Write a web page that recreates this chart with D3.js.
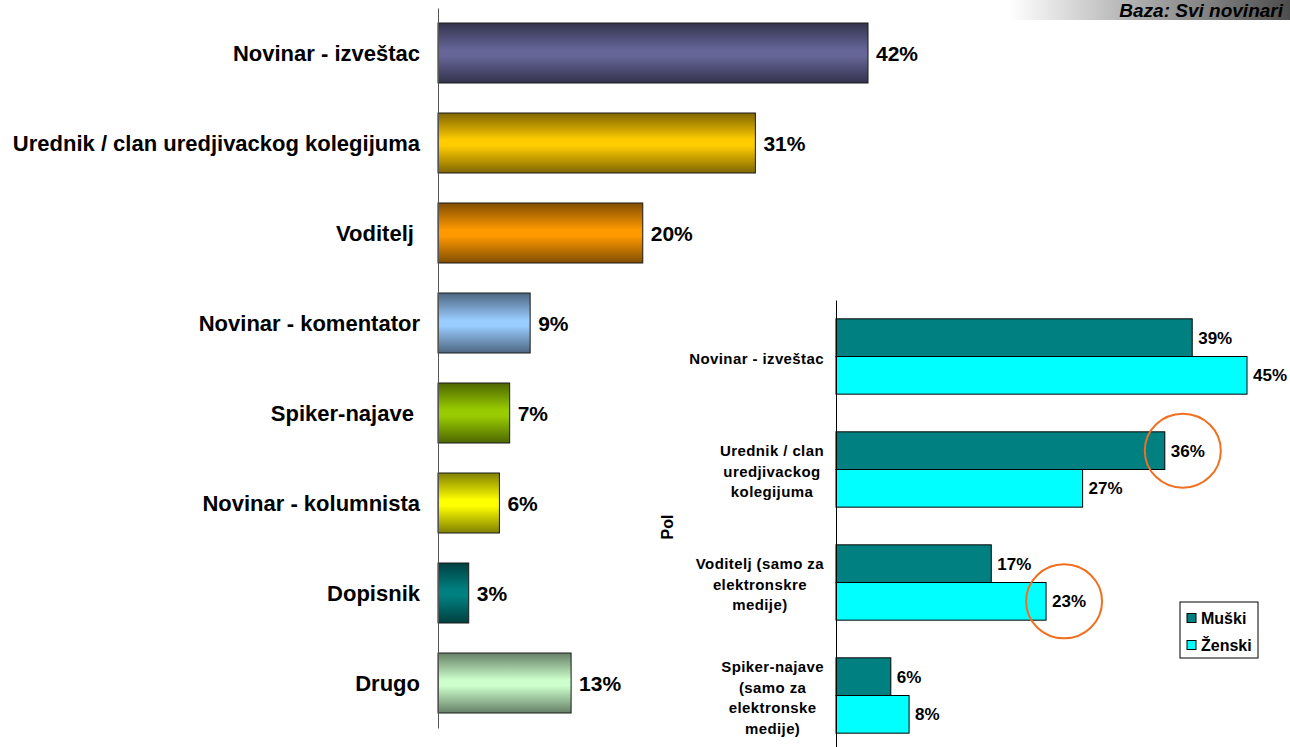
<!DOCTYPE html>
<html lang="en">
	<head>
		<meta charset="utf-8">
		<title>Pozicija u redakciji</title>
		<script type="text/javascript" src="https://cdn.jsdelivr.net/npm/d3@7"></script>
		<style>
			body{
				margin:0;
				background-color:white;
			}
			svg text{
				font-family:"Liberation Sans", Arial, sans-serif;
				font-weight:bold;
				fill:#000;
				white-space:pre;
			}
		</style>
	</head>

	<body>
		<div id="chart"></div>

		<script type="text/javascript">

			// main chart: svi novinari
			var categories = ["Novinar - izveštac","Urednik / clan uredjivackog kolegijuma","Voditelj ","Novinar - komentator","Spiker-najave ","Novinar - kolumnista","Dopisnik","Drugo"]
			var values = [42,31,20,9,7,6,3,13]
			var barColors = ["#666699","#ffcc00","#ff9900","#99ccff","#99cc00","#ffff00","#008080","#ccffcc"]

			// inset chart: po polu
			var groupLabels = [
				["Novinar - izveštac"],
				["Urednik / clan","uredjivackog","kolegijuma"],
				["Voditelj (samo za","elektronskre","medije)"],
				["Spiker-najave","(samo za","elektronske","medije)"]
			]
			var series = ["Muški","Ženski"]
			var muski = [39,36,17,6]
			var zenski = [45,27,23,8]
			var seriesColors = ["#008080","#00ffff"]
			// circled values: [group index, series index]
			var highlights = [[1,0],[2,1]]

			var baseText = "Baza: Svi novinari"

			var w = 1290
			var h = 747

			var svg = d3.select("#chart").append("svg")
			.attr("width",w)
			.attr("height",h)

			var defs = svg.append("defs")

			// header band top right
			var hg = defs.append("linearGradient").attr("id","hdr")
			hg.append("stop").attr("offset","0%").attr("stop-color","#ffffff")
			hg.append("stop").attr("offset","100%").attr("stop-color","#4d4d4d")
			svg.append("rect")
			.attr("x",1010).attr("y",0)
			.attr("width",280).attr("height",20)
			.attr("fill","url(#hdr)")
			svg.append("text")
			.attr("x",1283).attr("y",17)
			.attr("text-anchor","end")
			.style("font-size","19px")
			.style("font-style","italic")
			.attr("fill","#111")
			.text(baseText)

			// ---------- main chart ----------
			var xScale = d3.scaleLinear()
			.domain([0,42])
			.range([438,868])

			var yScale = d3.scaleBand()
			.domain(categories)
			.range([8,728])
			.paddingInner(1/3)
			.paddingOuter(1/6)

			// vertical gradients: dark edges, base colour in the middle
			barColors.forEach(function(c,i){
				var dark = d3.interpolateRgb(c,"#000")(0.5)
				var g = defs.append("linearGradient")
				.attr("id","bar"+i)
				.attr("x1",0).attr("y1",0).attr("x2",0).attr("y2",1)
				g.append("stop").attr("offset","0%").attr("stop-color",dark)
				g.append("stop").attr("offset","45%").attr("stop-color",c)
				g.append("stop").attr("offset","55%").attr("stop-color",c)
				g.append("stop").attr("offset","100%").attr("stop-color",dark)
			})

			svg.selectAll("rect.bar")
			.data(values)
			.enter()
			.append("rect")
			.attr("class","bar")
			.attr("x",xScale(0))
			.attr("y",function(d,i){
				return yScale(categories[i])
			})
			.attr("width",function(d){
				return xScale(d)-xScale(0)
			})
			.attr("height",yScale.bandwidth())
			.attr("fill",function(d,i){
				return "url(#bar"+i+")"
			})
			.attr("stroke","#1a1a1a")
			.attr("stroke-width",1)

			svg.selectAll("text.val")
			.data(values)
			.enter()
			.append("text")
			.attr("class","val")
			.attr("x",function(d){
				return xScale(d)+8
			})
			.attr("y",function(d,i){
				return yScale(categories[i])+yScale.bandwidth()/2
			})
			.attr("dy","0.36em")
			.style("font-size","21px")
			.text(function(d){
				return d+"%"
			})

			svg.selectAll("text.cat")
			.data(categories)
			.enter()
			.append("text")
			.attr("class","cat")
			.attr("x",xScale(0)-18)
			.attr("y",function(d){
				return yScale(d)+yScale.bandwidth()/2
			})
			.attr("dy","0.36em")
			.attr("text-anchor","end")
			.style("font-size","22px")
			.text(function(d){
				return d
			})

			var yAxis = d3.axisLeft(yScale)
			.tickSize(0)
			.tickSizeOuter(0)
			.tickFormat("")

			svg.append("g")
			.attr("transform","translate("+xScale(0)+",0)")
			.call(yAxis)
			.select(".domain")
			.attr("stroke","#555")

			// ---------- inset chart ----------
			var groups = d3.range(groupLabels.length)

			var x2 = d3.scaleLinear()
			.domain([0,45])
			.range([836,1247])

			var y0 = d3.scaleBand()
			.domain(groups)
			.range([300,752])
			.paddingInner(1/3)
			.paddingOuter(1/6)

			var y1 = d3.scaleBand()
			.domain(series)
			.range([0,y0.bandwidth()])

			var seriesValues = [muski,zenski]

			var inset = svg.append("g")

			var gGroups = inset.selectAll("g.grp")
			.data(groups)
			.enter()
			.append("g")
			.attr("class","grp")
			.attr("transform",function(d){
				return "translate(0,"+y0(d)+")"
			})

			gGroups.selectAll("rect")
			.data(function(g){
				return series.map(function(s,j){
					return {s:s,j:j,v:seriesValues[j][g]}
				})
			})
			.enter()
			.append("rect")
			.attr("x",x2(0))
			.attr("y",function(d){
				return y1(d.s)
			})
			.attr("width",function(d){
				return x2(d.v)-x2(0)
			})
			.attr("height",y1.bandwidth())
			.attr("fill",function(d){
				return seriesColors[d.j]
			})
			.attr("stroke","#000")
			.attr("stroke-width",1)

			gGroups.selectAll("text.v2")
			.data(function(g){
				return series.map(function(s,j){
					return {s:s,v:seriesValues[j][g]}
				})
			})
			.enter()
			.append("text")
			.attr("class","v2")
			.attr("x",function(d){
				return x2(d.v)+6
			})
			.attr("y",function(d){
				return y1(d.s)+y1.bandwidth()/2
			})
			.attr("dy","0.36em")
			.style("font-size","17px")
			.text(function(d){
				return d.v+"%"
			})

			// multi-line category labels, lines centred inside a right-aligned block
			var lineH = 20.5
			var labelRight = x2(0)-12
			gGroups.each(function(g){
				var lines = groupLabels[g]
				var t = d3.select(this).append("text")
				.style("font-size","15px")
				.style("letter-spacing","0.4px")
				.attr("text-anchor","middle")
				var spans = t.selectAll("tspan")
				.data(lines)
				.enter()
				.append("tspan")
				.attr("y",function(d,k){
					return y0.bandwidth()/2+2+(k-(lines.length-1)/2)*lineH
				})
				.attr("dy","0.36em")
				.text(function(d){
					return d
				})
				var maxW = 0
				spans.each(function(){
					maxW = Math.max(maxW,this.getComputedTextLength())
				})
				spans.attr("x",labelRight-maxW/2)
			})

			var y2Axis = d3.axisLeft(y0)
			.tickSize(0)
			.tickSizeOuter(0)
			.tickFormat("")

			inset.append("g")
			.attr("transform","translate("+x2(0)+",0)")
			.call(y2Axis)
			.select(".domain")
			.attr("stroke","#000")

			// axis title
			inset.append("text")
			.attr("transform","translate(673,527) rotate(-90)")
			.attr("text-anchor","middle")
			.style("font-size","16px")
			.text("Pol")

			// orange circles round highlighted values
			inset.selectAll("ellipse")
			.data(highlights)
			.enter()
			.append("ellipse")
			.attr("cx",function(d){
				return x2(seriesValues[d[1]][d[0]])+18
			})
			.attr("cy",function(d){
				return y0(d[0])+y1(series[d[1]])+y1.bandwidth()/2
			})
			.attr("rx",38)
			.attr("ry",37)
			.attr("fill","none")
			.attr("stroke","#f07020")
			.attr("stroke-width",2)

			// legend
			var legend = inset.append("g")
			.attr("transform","translate(1180,602)")
			legend.append("rect")
			.attr("width",78)
			.attr("height",56)
			.attr("fill","white")
			.attr("stroke","#000")

			var li = legend.selectAll("g.li")
			.data(series)
			.enter()
			.append("g")
			.attr("class","li")
			.attr("transform",function(d,i){
				return "translate(7,"+(16+i*27)+")"
			})
			li.append("rect")
			.attr("x",0).attr("y",-4.5)
			.attr("width",9).attr("height",9)
			.attr("fill",function(d,i){
				return seriesColors[i]
			})
			.attr("stroke","#000")
			li.append("text")
			.attr("x",14)
			.attr("dy","0.36em")
			.style("font-size","16px")
			.text(function(d){
				return d
			})

		</script>
	</body>
</html>
